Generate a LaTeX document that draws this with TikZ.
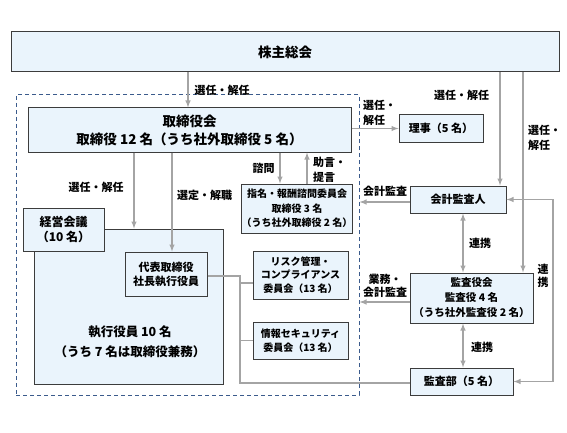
\documentclass[tikz,border=0pt]{standalone}
\usepackage{fontspec}
\setmainfont{Noto Sans CJK JP}
\usepackage{xcolor}
\usepackage{tikz}
\usetikzlibrary{shapes,positioning}
\usetikzlibrary{calc}
\usetikzlibrary{arrows}
\definecolor{fond}{HTML}{EAF4FC}
\definecolor{bord}{HTML}{3C3C3C}
\definecolor{fleche}{HTML}{A4A4A4}
\definecolor{pointille}{HTML}{3B5B8C}
\tikzset{
	boite/.style={draw=bord,fill=fond,line width=1pt,inner sep=0pt,align=center,font=\bfseries\fontsize{11}{14}\selectfont},
	lien/.style={draw=fleche,line width=1.4pt},
	etiquette/.style={inner sep=0pt,align=center,font=\bfseries\fontsize{11}{15}\selectfont}
}

\begin{document}
\begin{tikzpicture}[x=1pt,y=-1pt]
	\useasboundingbox (0,0) rectangle (567,433);
	
	%Cadre du conseil
	\node[draw=pointille,dashed,line width=1pt,dash pattern=on 4pt off 3pt,minimum width=343,minimum height=300,inner sep=0pt] (cadre) at (187.5,245) {};
	
	%Boites
	\node[boite,minimum width=548,minimum height=40,font=\bfseries\fontsize{13.5}{18}\selectfont] (kabunushi) at (285,52) {株主総会};
	\node[boite,minimum width=323,minimum height=44,font=\bfseries\fontsize{13.5}{18}\selectfont] (torishimari) at (189.5,130) {取締役会\\取締役 12 名（うち社外取締役 5 名）};
	\node[boite,minimum width=84,minimum height=27] (riji) at (441,128.5) {理事（5 名）};
	\node[boite,minimum width=96,minimum height=27] (kaikei) at (458,199.5) {会計監査人};
	\node[boite,minimum width=108,minimum height=49,font=\bfseries\fontsize{10}{14.5}\selectfont] (shimei) at (297,208.5) {指名・報酬諮問委員会\\取締役 3 名\\（うち社外取締役 2 名）};
	\node[boite,minimum width=189,minimum height=155] (shikko) at (128.5,306.5) {};
	\node[font=\bfseries\fontsize{12.5}{20}\selectfont,align=center] (shikkotexte) at (130,342) {執行役員 10 名\\（うち 7 名は取締役兼務）};
	\node[boite,minimum width=81,minimum height=43,font=\bfseries\fontsize{12}{15}\selectfont] (keiei) at (63.5,229.5) {経営会議\\（10 名）};
	\node[boite,minimum width=82,minimum height=44] (daihyo) at (166,274) {代表取締役\\社長執行役員};
	\node[boite,minimum width=95,minimum height=48,font=\bfseries\fontsize{10}{13.5}\selectfont] (risk) at (300.5,275) {リスク管理・\\コンプライアンス\\委員会（13 名）};
	\node[boite,minimum width=95,minimum height=37,font=\bfseries\fontsize{10}{14}\selectfont] (joho) at (300.5,340.5) {情報セキュリティ\\委員会（13 名）};
	\node[boite,minimum width=123,minimum height=50,font=\bfseries\fontsize{10.5}{15}\selectfont] (kansayaku) at (471.5,298) {監査役会\\監査役 4 名\\（うち社外監査役 2 名）};
	\node[boite,minimum width=103,minimum height=27] (kansabu) at (461.5,381.5) {監査部（5 名）};
	
	%Abscisses des liens
	\coordinate (xa) at (188,0);
	\coordinate (xb) at (500,0);
	\coordinate (xc) at (523,0);
	\coordinate (xd) at (134,0);
	\coordinate (xe) at (172,0);
	\coordinate (xf) at (280,0);
	\coordinate (xg) at (307,0);
	\coordinate (xh) at (463,0);
	\coordinate (xi) at (553,0);
	\coordinate (xj) at (240,0);
	
	%Liens
	\draw[lien,-latex] (kabunushi.south -| xa) -- (torishimari.north -| xa);
	\draw[lien,-latex] (torishimari.east |- riji.west) -- (riji.west);
	\draw[lien,-latex] (kabunushi.south -| xb) -- (kaikei.north -| xb);
	\draw[lien,-latex] (kabunushi.south -| xc) -- (kansayaku.north -| xc);
	\draw[lien,-latex] (torishimari.south -| xd) -- (shikko.north -| xd);
	\draw[lien,-latex] (torishimari.south -| xe) -- (daihyo.north -| xe);
	\draw[lien,-latex] (torishimari.south -| xf) -- (shimei.north -| xf);
	\draw[lien,-latex] (shimei.north -| xg) -- (torishimari.south -| xg);
	\draw[lien,-latex] ($(kaikei.west)+(0,2.5)$) -- ($(cadre.east |- kaikei.west)+(0,2.5)$);
	\draw[lien,-latex] ($(kansayaku.west)+(0,4)$) -- ($(cadre.east |- kansayaku.west)+(0,4)$);
	\draw[lien,latex-latex] (kaikei.south -| xh) -- (kansayaku.north -| xh);
	\draw[lien,latex-latex] (kansayaku.south -| xh) -- (kansabu.north -| xh);
	\draw[lien,latex-latex] (kaikei.east) -- (kaikei.east -| xi) -- (kansabu.east -| xi) -- (kansabu.east);
	\draw[lien] ($(daihyo.east)+(0,2)$) -- ($(daihyo.east -| xj)+(0,2)$) -- ($(kansabu.west -| xj)+(0,1.5)$) -- ($(kansabu.west)+(0,1.5)$);
	\draw[lien] ($(risk.west -| xj)+(0,8)$) -- ($(risk.west)+(0,8)$);
	\draw[lien] (joho.west -| xj) -- (joho.west);
	
	%Etiquettes
	\node[etiquette] (e1) at (222,90) {選任・解任};
	\node[etiquette,anchor=west,align=left] (e2) at (363,113) {選任・\\解任};
	\node[etiquette] (e3) at (461.5,95) {選任・解任};
	\node[etiquette,anchor=west,align=left] (e4) at (528,137.5) {選任・\\解任};
	\node[etiquette] (e5) at (263.5,168) {諮問};
	\node[etiquette,anchor=west,align=left] (e6) at (313,169.5) {助言・\\提言};
	\node[etiquette] (e7) at (96,187) {選任・解任};
	\node[etiquette] (e8) at (204.5,195) {選定・解職};
	\node[etiquette] (e9) at (385,191) {会計監査};
	\node[etiquette] (e10) at (480,243) {連携};
	\node[etiquette,font=\bfseries\fontsize{11}{13}\selectfont] (e11) at (543,275.5) {連\\携};
	\node[etiquette,font=\bfseries\fontsize{11}{13}\selectfont] (e12) at (385,285.5) {業務・\\会計監査};
	\node[etiquette] (e13) at (482,347) {連携};
	
\end{tikzpicture}
\end{document}
